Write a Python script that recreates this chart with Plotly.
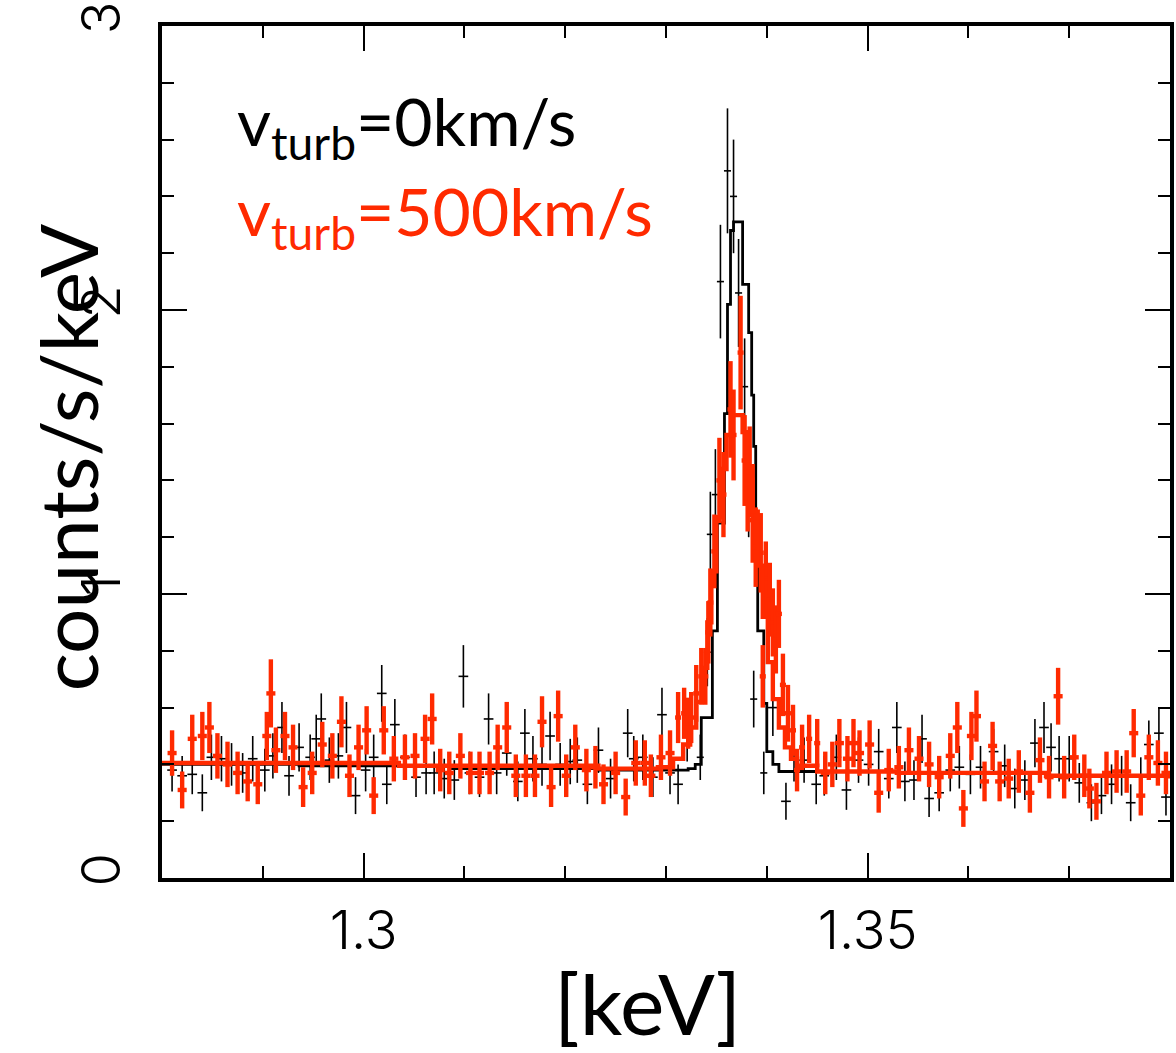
import plotly.graph_objects as go

# ---- spectrum without turbulence (black) ----
black_e = [1.2810, 1.2820, 1.2830, 1.2840, 1.2849, 1.2859, 1.2869, 1.2880, 1.2890, 1.2902,
           1.2910, 1.2919, 1.2926, 1.2936, 1.2947, 1.2953, 1.2958, 1.2966, 1.2975, 1.2983,
           1.2992, 1.3002, 1.3010, 1.3018, 1.3023, 1.3031, 1.3041, 1.3052, 1.3062, 1.3070,
           1.3080, 1.3090, 1.3099, 1.3105, 1.3115, 1.3124, 1.3132, 1.3142, 1.3153, 1.3160,
           1.3168, 1.3177, 1.3185, 1.3195, 1.3205, 1.3212, 1.3222, 1.3233, 1.3245, 1.3262,
           1.3268, 1.3277, 1.3287, 1.3296, 1.3304, 1.3312, 1.3321, 1.3334, 1.3341, 1.3344,
           1.3349, 1.3354, 1.3361, 1.3367, 1.3372, 1.3378, 1.3382, 1.3387, 1.3397, 1.3406,
           1.3419, 1.3427, 1.3437, 1.3449, 1.3457, 1.3469, 1.3479, 1.3491, 1.3501, 1.3511,
           1.3521, 1.3529, 1.3537, 1.3546, 1.3554, 1.3561, 1.3571, 1.3582, 1.3591, 1.3602,
           1.3612, 1.3625, 1.3636, 1.3646, 1.3656, 1.3666, 1.3675, 1.3682, 1.3690, 1.3700,
           1.3710, 1.3722, 1.3732, 1.3742, 1.3752, 1.3761, 1.3771, 1.3779, 1.3789, 1.3796]
black_rate = [0.38, 0.36, 0.365, 0.30, 0.425, 0.42, 0.40, 0.37, 0.42, 0.38,
              0.43, 0.53, 0.36, 0.46, 0.425, 0.49, 0.56, 0.415, 0.43, 0.53,
              0.29, 0.38, 0.425, 0.65, 0.33, 0.54, 0.425, 0.355, 0.37, 0.37,
              0.35, 0.345, 0.71, 0.37, 0.355, 0.56, 0.37, 0.44, 0.34, 0.51,
              0.42, 0.40, 0.50, 0.40, 0.41, 0.415, 0.33, 0.45, 0.35, 0.51,
              0.42, 0.425, 0.355, 0.575, 0.37, 0.33, 0.495, 0.425, 0.795, 1.21,
              1.35, 2.10, 2.49, 2.40, 2.06, 1.73, 1.35, 0.63, 0.37, 0.60,
              0.27, 0.42, 0.415, 0.33, 0.36, 0.425, 0.31, 0.415, 0.40, 0.445,
              0.35, 0.53, 0.34, 0.345, 0.49, 0.28, 0.30, 0.38, 0.39, 0.365,
              0.39, 0.445, 0.395, 0.315, 0.345, 0.475, 0.53, 0.46, 0.42, 0.42,
              0.335, 0.265, 0.29, 0.33, 0.36, 0.265, 0.355, 0.47, 0.51, 0.285]
black_err = [0.075, 0.07, 0.07, 0.065, 0.08, 0.08, 0.075, 0.07, 0.08, 0.075,
             0.08, 0.09, 0.07, 0.085, 0.08, 0.085, 0.09, 0.08, 0.08, 0.09,
             0.065, 0.075, 0.08, 0.10, 0.07, 0.09, 0.08, 0.07, 0.075, 0.075,
             0.07, 0.07, 0.11, 0.075, 0.07, 0.09, 0.075, 0.08, 0.07, 0.085,
             0.08, 0.075, 0.085, 0.075, 0.08, 0.08, 0.07, 0.08, 0.07, 0.085,
             0.08, 0.08, 0.07, 0.095, 0.075, 0.07, 0.085, 0.08, 0.12, 0.15,
             0.16, 0.20, 0.22, 0.20, 0.19, 0.17, 0.15, 0.10, 0.075, 0.10,
             0.065, 0.08, 0.08, 0.07, 0.07, 0.08, 0.07, 0.08, 0.075, 0.08,
             0.07, 0.09, 0.07, 0.07, 0.085, 0.065, 0.065, 0.075, 0.075, 0.07,
             0.075, 0.08, 0.075, 0.07, 0.07, 0.085, 0.09, 0.085, 0.08, 0.08,
             0.07, 0.065, 0.065, 0.07, 0.07, 0.065, 0.07, 0.085, 0.09, 0.065]
black_hw = [0.00048] * 57 + [0.00035] * 12 + [0.00048] * 41

# ---- spectrum with v_turb = 500 km/s (red) ----
red_e = [1.2810, 1.2820, 1.2830, 1.2840, 1.2847, 1.2855, 1.2865, 1.2875, 1.2885, 1.2895,
         1.2904, 1.2908, 1.2913, 1.2922, 1.2930, 1.2940, 1.2949, 1.2959, 1.2969, 1.2978,
         1.2986, 1.2995, 1.3003, 1.3010, 1.3020, 1.3030, 1.3041, 1.3051, 1.3061, 1.3068,
         1.3076, 1.3085, 1.3096, 1.3106, 1.3115, 1.3125, 1.3133, 1.3142, 1.3151, 1.3161,
         1.3170, 1.3177, 1.3186, 1.3193, 1.3201, 1.3210, 1.3221, 1.3230, 1.3238, 1.3250,
         1.3260, 1.3270, 1.3279, 1.3285, 1.3295, 1.3304, 1.3312, 1.3318, 1.3322, 1.3325,
         1.3330, 1.3335, 1.3339, 1.3342, 1.3344, 1.3348, 1.3353, 1.3357, 1.3364, 1.3367,
         1.3374, 1.3378, 1.3381, 1.3383, 1.3386, 1.3389, 1.3394, 1.3396, 1.3399, 1.3403,
         1.3406, 1.3409, 1.3412, 1.3416, 1.3421, 1.3426, 1.3430, 1.3435, 1.3442, 1.3450,
         1.3458, 1.3465, 1.3472, 1.3480, 1.3486, 1.3492, 1.3502, 1.3511, 1.3521, 1.3531,
         1.3541, 1.3551, 1.3561, 1.3571, 1.3582, 1.3589, 1.3595, 1.3603, 1.3608, 1.3616,
         1.3624, 1.3631, 1.3640, 1.3650, 1.3661, 1.3671, 1.3680, 1.3689, 1.3695, 1.3705,
         1.3715, 1.3720, 1.3727, 1.3737, 1.3747, 1.3757, 1.3764, 1.3771, 1.3779, 1.3788,
         1.3796]
red_rate = [0.44, 0.31, 0.49, 0.50, 0.53, 0.43, 0.40, 0.37, 0.34, 0.33,
            0.50, 0.65, 0.45, 0.50, 0.46, 0.32, 0.37, 0.47, 0.43, 0.55,
            0.36, 0.46, 0.52, 0.29, 0.52, 0.42, 0.425, 0.43, 0.49, 0.56,
            0.38, 0.37, 0.43, 0.37, 0.37, 0.37, 0.46, 0.53, 0.36, 0.36,
            0.36, 0.55, 0.32, 0.57, 0.36, 0.46, 0.38, 0.39, 0.33, 0.37,
            0.285, 0.405, 0.405, 0.36, 0.425, 0.44, 0.565, 0.58, 0.545, 0.565,
            0.65, 0.71, 0.71, 0.865, 0.97, 1.15, 1.40, 1.35, 1.65, 1.56,
            1.85, 1.47, 1.37, 1.43, 1.26, 1.165, 1.145, 0.71, 1.055, 0.98,
            0.90, 0.84, 0.93, 0.68, 0.58, 0.52, 0.38, 0.46, 0.49, 0.475,
            0.37, 0.40, 0.475, 0.42, 0.475, 0.44, 0.47, 0.30, 0.38, 0.39,
            0.45, 0.42, 0.40, 0.355, 0.43, 0.53, 0.245, 0.50, 0.57, 0.34,
            0.465, 0.34, 0.35, 0.375, 0.30, 0.415, 0.355, 0.64, 0.355, 0.425,
            0.36, 0.315, 0.27, 0.37, 0.375, 0.375, 0.51, 0.29, 0.425, 0.405,
            0.37]
red_err = [0.08, 0.065, 0.085, 0.085, 0.09, 0.08, 0.08, 0.075, 0.07, 0.07,
           0.085, 0.12, 0.08, 0.085, 0.08, 0.07, 0.075, 0.08, 0.08, 0.09,
           0.075, 0.08, 0.085, 0.065, 0.085, 0.08, 0.08, 0.08, 0.085, 0.09,
           0.075, 0.075, 0.08, 0.075, 0.075, 0.075, 0.08, 0.09, 0.075, 0.075,
           0.075, 0.09, 0.07, 0.09, 0.075, 0.08, 0.075, 0.075, 0.07, 0.075,
           0.065, 0.08, 0.08, 0.075, 0.08, 0.08, 0.09, 0.09, 0.09, 0.09,
           0.10, 0.10, 0.10, 0.11, 0.12, 0.13, 0.15, 0.15, 0.17, 0.16,
           0.20, 0.16, 0.15, 0.16, 0.15, 0.14, 0.14, 0.11, 0.13, 0.13,
           0.12, 0.12, 0.12, 0.11, 0.10, 0.09, 0.075, 0.08, 0.085, 0.085,
           0.075, 0.08, 0.085, 0.08, 0.085, 0.08, 0.085, 0.07, 0.075, 0.075,
           0.08, 0.08, 0.08, 0.075, 0.08, 0.09, 0.065, 0.085, 0.09, 0.07,
           0.085, 0.07, 0.07, 0.075, 0.07, 0.08, 0.075, 0.10, 0.075, 0.08,
           0.075, 0.07, 0.065, 0.075, 0.075, 0.075, 0.085, 0.07, 0.08, 0.08,
           0.075]
red_hw = [0.00045] * 56 + [0.0003] * 34 + [0.00045] * 41

# ---- folded model curves (step edges in keV) ----
black_model_e = [1.2800, 1.2936, 1.3085, 1.3233, 1.3322, 1.3329, 1.3335, 1.3346, 1.3351,
                 1.3358, 1.3361, 1.3364, 1.3367, 1.3376, 1.3382, 1.3385, 1.3387, 1.3389,
                 1.3391, 1.3397, 1.3400, 1.3406, 1.3412, 1.3529, 1.3677, 1.3800]
black_model = [0.400, 0.395, 0.385, 0.380, 0.385, 0.400, 0.565, 0.870, 1.250,
               1.635, 2.020, 2.280, 2.310, 2.090, 1.920, 1.700, 1.520, 1.235,
               0.870, 0.615, 0.445, 0.400, 0.375, 0.370, 0.360, 0.355]

red_model_e = [1.2800, 1.3035, 1.3233, 1.3292, 1.3307, 1.3317, 1.3324, 1.3330, 1.3336,
               1.3341, 1.3345, 1.3350, 1.3355, 1.3360, 1.3365, 1.3371, 1.3376, 1.3381,
               1.3386, 1.3391, 1.3396, 1.3401, 1.3406, 1.3412, 1.3418, 1.3424, 1.3430,
               1.3450, 1.3529, 1.3677, 1.3800]
red_model = [0.405, 0.395, 0.385, 0.390, 0.420, 0.470, 0.530, 0.620, 0.740,
             0.900, 1.080, 1.270, 1.440, 1.560, 1.630, 1.630, 1.570, 1.450,
             1.290, 1.100, 0.920, 0.760, 0.630, 0.530, 0.460, 0.420, 0.395,
             0.375, 0.370, 0.360, 0.350]

x_ticks = [1.3, 1.35]
x_ticklabels = ["1.3", "1.35"]
y_ticks = [0, 1, 2, 3]
y_ticklabels = ["0", "1", "2", "3"]

BLACK = "#000000"
RED = "#ff2a00"

fig = go.Figure()

fig.add_trace(go.Scatter(
    x=black_e, y=black_rate, mode="markers",
    marker=dict(size=1, color=BLACK),
    error_x=dict(type="data", array=black_hw, color=BLACK, thickness=1.6, width=0),
    error_y=dict(type="data", array=black_err, color=BLACK, thickness=1.6, width=0),
    showlegend=False, hoverinfo="skip"))
fig.add_trace(go.Scatter(
    x=black_model_e, y=black_model, mode="lines", line_shape="hv",
    line=dict(color=BLACK, width=2.8), showlegend=False, hoverinfo="skip"))
fig.add_trace(go.Scatter(
    x=red_e, y=red_rate, mode="markers",
    marker=dict(size=1, color=RED),
    error_x=dict(type="data", array=red_hw, color=RED, thickness=4.4, width=0),
    error_y=dict(type="data", array=red_err, color=RED, thickness=4.4, width=0),
    showlegend=False, hoverinfo="skip"))
fig.add_trace(go.Scatter(
    x=red_model_e, y=red_model, mode="lines", line_shape="hv",
    line=dict(color=RED, width=4.4), showlegend=False, hoverinfo="skip"))

tick_font = dict(family="Inter, Liberation Sans, DejaVu Sans, sans-serif", size=54,
                 color=BLACK, weight=300)
label_font = "Lato, Open Sans, sans-serif"

fig.update_layout(
    width=1176, height=1053,
    margin=dict(l=162, r=2, t=25, b=175),
    paper_bgcolor="white", plot_bgcolor="white",
    xaxis=dict(
        range=[1.28, 1.38], tickvals=x_ticks, ticktext=x_ticklabels,
        ticks="inside", ticklen=25, tickwidth=2.4, tickcolor=BLACK,
        showline=True, linewidth=4, linecolor=BLACK, mirror="ticks",
        showgrid=False, zeroline=False, tickfont=tick_font, ticklabelstandoff=2,
        minor=dict(tick0=1.28, dtick=0.01, ticks="inside", ticklen=12,
                   tickwidth=2.4, tickcolor=BLACK, showgrid=False),
    ),
    yaxis=dict(
        range=[0, 3], tickvals=y_ticks, ticktext=y_ticklabels, tickangle=-90,
        ticks="inside", ticklen=25, tickwidth=2.4, tickcolor=BLACK,
        showline=True, linewidth=4, linecolor=BLACK, mirror="ticks",
        showgrid=False, zeroline=False, tickfont=tick_font, ticklabelstandoff=16,
        minor=dict(tick0=0, dtick=0.2, ticks="inside", ticklen=12,
                   tickwidth=2.4, tickcolor=BLACK, showgrid=False),
    ),
    annotations=[
        dict(text="counts/s/keV", xref="paper", yref="paper", x=-0.094, y=0.494,
             textangle=-90, showarrow=False, xanchor="center", yanchor="middle",
             font=dict(family=label_font, size=80, color=BLACK)),
        dict(text="[keV]", xref="paper", yref="paper", x=0.482, y=-0.146,
             showarrow=False, xanchor="center", yanchor="middle",
             font=dict(family=label_font, size=84, color=BLACK)),
        dict(text="v<sub>turb</sub>=0km/s", xref="paper", yref="paper", x=0.072, y=0.883,
             showarrow=False, xanchor="left", yanchor="middle",
             font=dict(family=label_font, size=66, color=BLACK)),
        dict(text="v<sub>turb</sub>=500km/s", xref="paper", yref="paper", x=0.072, y=0.777,
             showarrow=False, xanchor="left", yanchor="middle",
             font=dict(family=label_font, size=66, color=RED)),
    ],
)

fig.write_html("out.html")
